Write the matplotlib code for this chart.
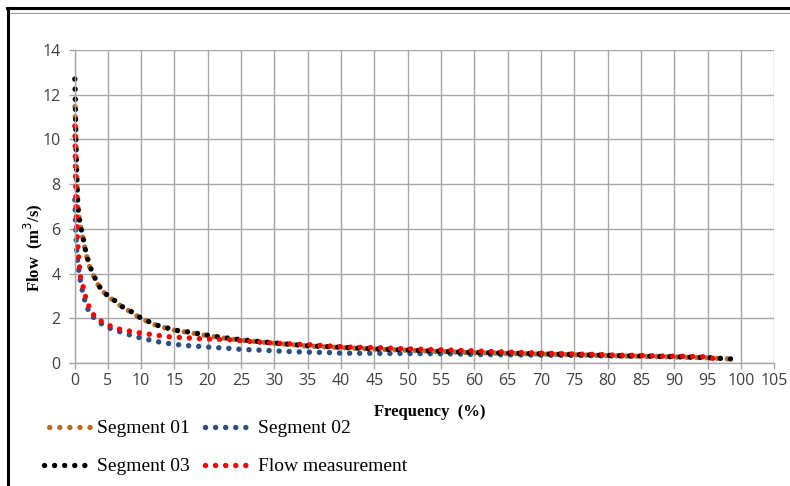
import matplotlib
matplotlib.use("Agg")
import matplotlib.pyplot as plt
from matplotlib.lines import Line2D

# flow duration curves
seg01_x = [0.05, 0.1, 0.15, 0.2, 0.3, 0.5, 0.75, 1.0, 1.35, 1.75, 2.25, 3.0, 3.85, 4.85, 6.0, 7.25,
           8.5, 9.75, 11, 12.5, 14, 15.5, 17.3, 18.8, 20.2, 22, 25, 28, 31, 35, 38, 40, 45, 50, 55,
           60, 65, 70, 75, 80, 85, 90, 95, 98.5]
seg01_y = [11.7, 11.2, 10.6, 9.9, 8.7, 6.95, 6.35, 5.95, 5.45, 4.85, 4.32, 3.8, 3.33, 3.02, 2.77, 2.48,
           2.28, 2.03, 1.85, 1.66, 1.54, 1.43, 1.36, 1.28, 1.21, 1.13, 1.02, 0.94, 0.86, 0.76, 0.72, 0.69,
           0.62, 0.57, 0.51, 0.46, 0.43, 0.4, 0.37, 0.33, 0.3, 0.27, 0.23, 0.18]

seg02_x = [0.05, 0.1, 0.2, 0.35, 0.5, 0.75, 1.0, 1.35, 1.75, 2.4, 3.4, 4.6, 6, 7.5, 9, 10.5, 12, 13.6,
           15.2, 16.8, 18.4, 20.1, 23.8, 25, 28.2, 31.6, 34.4, 37.8, 40, 46, 52, 56.6, 60, 64, 70, 75,
           80, 84]
seg02_y = [7.3, 6.8, 5.8, 4.88, 4.44, 3.91, 3.47, 3.02, 2.57, 2.16, 1.9, 1.63, 1.48, 1.33, 1.19, 1.08,
           0.98, 0.89, 0.83, 0.78, 0.75, 0.71, 0.64, 0.61, 0.57, 0.52, 0.49, 0.47, 0.44, 0.43, 0.42,
           0.41, 0.38, 0.37, 0.35, 0.34, 0.32, 0.3]

seg03_x = [0.05, 0.1, 0.15, 0.2, 0.3, 0.5, 0.75, 1.0, 1.35, 1.75, 2.25, 3.0, 3.85, 4.85, 6.0, 7.25,
           8.5, 9.75, 11, 12.5, 14, 15.5, 17.3, 18.8, 20.2, 22, 25, 28, 31, 35, 38, 40, 45, 50, 55,
           60, 65, 70, 75, 80, 85, 90, 95, 98.5]
seg03_y = [12.7, 12.2, 11.2, 10.2, 8.8, 7.0, 6.4, 6.0, 5.5, 4.9, 4.36, 3.84, 3.36, 3.05, 2.8, 2.5,
           2.3, 2.05, 1.87, 1.68, 1.56, 1.45, 1.38, 1.3, 1.23, 1.15, 1.04, 0.95, 0.87, 0.77, 0.73, 0.7,
           0.63, 0.58, 0.52, 0.47, 0.44, 0.41, 0.38, 0.34, 0.31, 0.28, 0.24, 0.18]

meas_x = [0.05, 0.1, 0.15, 0.25, 0.4, 0.5, 0.6, 0.9, 1.25, 1.6, 2.0, 2.6, 3.5, 4.8, 5.9, 7.25, 8.75,
          10.1, 11.6, 13.1, 14.6, 16, 17.6, 19.2, 21.5, 23.6, 25, 26.5, 28, 29.5, 32.6, 35.6, 37.6,
          41.1, 46.3, 49.2, 52.7, 56.3, 59.5, 61.9, 66, 69.2, 72.3, 75.5, 78.7, 81.4, 84.7, 88, 91.2,
          94.4, 96]
meas_y = [10.6, 9.6, 8.4, 6.67, 5.7, 5.25, 4.8, 3.84, 3.47, 3.02, 2.65, 2.24, 1.95, 1.75, 1.57, 1.48,
          1.4, 1.33, 1.27, 1.21, 1.16, 1.14, 1.11, 1.08, 1.06, 1.04, 1.0, 0.96, 0.93, 0.9, 0.85, 0.81,
          0.77, 0.71, 0.68, 0.64, 0.61, 0.58, 0.55, 0.52, 0.48, 0.45, 0.42, 0.4, 0.38, 0.35, 0.34,
          0.31, 0.3, 0.28, 0.2]

names = ["Segment 01", "Segment 02", "Segment 03", "Flow measurement"]
colors = ["#B86A24", "#2E4E7E", "#000000", "#FF0000"]

W, H = 790, 486
fig = plt.figure(figsize=(W / 100, H / 100), dpi=100)

# frame around the chart
fig.add_artist(Line2D([8 / W, 8 / W], [0, 1 - 8 / H], color="black", lw=2.2, transform=fig.transFigure))
fig.add_artist(Line2D([7 / W, 1], [1 - 8 / H, 1 - 8 / H], color="black", lw=2.2, transform=fig.transFigure))
fig.add_artist(Line2D([10 / W, 1], [1 - 13.5 / H, 1 - 13.5 / H], color="#999999", lw=0.8,
                      transform=fig.transFigure))

ax = fig.add_axes([74.5 / W, (H - 363) / H, (774.3 - 74.5) / W, (363 - 50) / H])

series = [(seg01_x, seg01_y), (seg02_x, seg02_y), (seg03_x, seg03_y), (meas_x, meas_y)]
offsets = [0.9, 0, 0, 0]
handles = []
for (xs, ys), name, c, off in zip(series, names, colors, offsets):
    ln, = ax.plot(xs, ys, color=c, lw=3.9, linestyle=(off, (0.01, 1.85)), dash_capstyle="round",
                  label=name, clip_on=False)
    handles.append(ln)

ax.set_xlim(0, 105)
ax.set_ylim(0, 14)
ax.set_xticks(range(0, 106, 5))
ax.set_yticks(range(0, 15, 2))
ax.grid(True, color="#A6A6A6", lw=1)
ax.set_axisbelow(True)
for s in ["top", "right"]:
    ax.spines[s].set_visible(False)
for s in ["left", "bottom"]:
    ax.spines[s].set_color("#A6A6A6")
    ax.spines[s].set_linewidth(1)
ax.tick_params(colors="#A6A6A6", length=4, width=1, labelcolor="#404040", labelsize=11.5)
ax.tick_params(axis="y", pad=6)
for lab in ax.get_xticklabels() + ax.get_yticklabels():
    lab.set_family("Open Sans")

ax.set_xlabel("Frequency  (%)", family="Liberation Serif", weight="bold", fontsize=12)
ax.set_ylabel("Flow  (m$^3$/s)", family="Liberation Serif", weight="bold", fontsize=12)
ax.xaxis.set_label_coords((430 - 74.5) / (774.3 - 74.5), -0.13)
ax.yaxis.set_label_coords((45 - 74.5) / (774.3 - 74.5), 0.37)

leg_font = {"family": "Liberation Serif", "size": 14}
leg_kw = dict(loc="upper left", ncol=2, frameon=False, prop=leg_font, handlelength=2.6,
              handletextpad=0.15, columnspacing=0.75, borderaxespad=0)
fig.legend(handles[:2], names[:2], bbox_to_anchor=(36 / W, 1 - 412 / H), **leg_kw)
fig.legend(handles[2:], names[2:], bbox_to_anchor=(36 / W, 1 - 450 / H), **leg_kw)

fig.savefig("out.png", dpi=100)
